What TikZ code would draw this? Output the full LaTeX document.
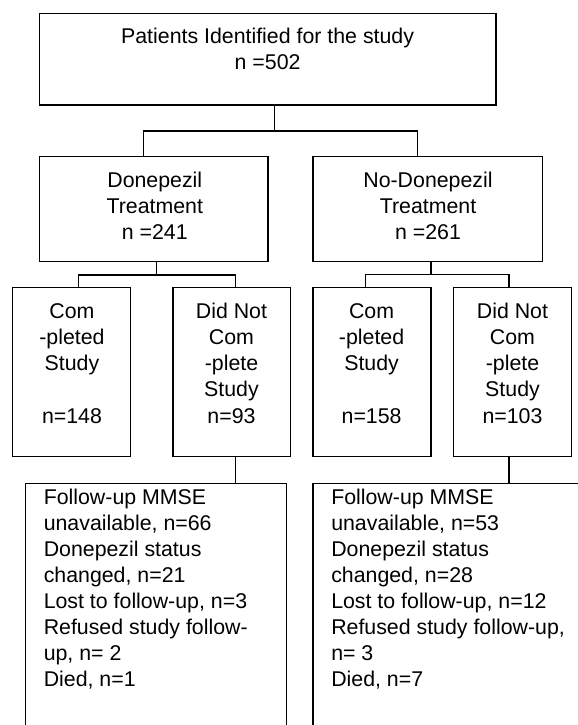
\documentclass[tikz,border=0pt]{standalone}
\usepackage{fontspec}
\setmainfont{Liberation Sans}
\newcommand{\mylines}[2]{\begin{tabular}[t]{@{}#1@{}}#2\end{tabular}}
\begin{document}
\begin{tikzpicture}[x=0.75pt,y=-0.75pt,
  box/.style={draw=black, line width=0.95pt, inner sep=0pt, outer sep=0pt},
  conn/.style={draw=black, line width=0.95pt},
  txt/.style={inner sep=0pt, anchor=base, font=\fontsize{16pt}{19.5pt}\selectfont}]
\useasboundingbox (0,0) rectangle (578,725);
\clip (0,0) rectangle (578,725);
% boxes
\node[box, minimum width=342.5pt, minimum height=68.8pt] (top) at (267.75,59.15) {};
\node[box, minimum width=171.45pt, minimum height=78.45pt] (don) at (153.7,209) {};
\node[box, minimum width=172.3pt, minimum height=78.45pt] (nodon) at (427.85,209) {};
\node[box, minimum width=88.5pt, minimum height=127.05pt] (com1) at (71.7,372) {};
\node[box, minimum width=88.2pt, minimum height=127.05pt] (dnc1) at (231.7,372) {};
\node[box, minimum width=88.4pt, minimum height=127.05pt] (com2) at (371.95,372) {};
\node[box, minimum width=88.5pt, minimum height=127.05pt] (dnc2) at (512.7,372) {};
\node[box, minimum width=195.75pt, minimum height=207.5pt] (bot1) at (156.3,621.65) {};
\node[box, minimum width=230.25pt, minimum height=207.5pt] (bot2) at (466.5,621.65) {};
% texts
\node[txt] (toptxt) at (267.6,43.5) {\mylines{c}{Patients Identified for the study\\n =502}};
\node[txt] (dontxt) at (154.8,187.5) {\mylines{c}{Donepezil\\Treatment\\n =241}};
\node[txt] (nodontxt) at (428,187.5) {\mylines{c}{No-Donepezil\\Treatment\\n =261}};
\node[txt] (com1txt) at (72,318.2) {\mylines{c}{Com\\-pleted\\Study\\\mbox{}\\[1.3pt]n=148}};
\node[txt] (dnc1txt) at (231.5,318.2) {\mylines{c}{Did Not\\Com\\-plete\\Study\\[1.3pt]n=93}};
\node[txt] (com2txt) at (371.6,318.2) {\mylines{c}{Com\\-pleted\\Study\\\mbox{}\\[1.3pt]n=158}};
\node[txt] (dnc2txt) at (512.5,318.2) {\mylines{c}{Did Not\\Com\\-plete\\Study\\[1.3pt]n=103}};
\node[txt, anchor=base west] (bot1txt) at (43.5,504.2) {\mylines{l}{Follow-up MMSE\\unavailable, n=66\\Donepezil status\\changed, n=21\\Lost to follow-up, n=3\\Refused study follow-\\up, n= 2\\Died, n=1}};
\node[txt, anchor=base west] (bot2txt) at (331,504.2) {\mylines{l}{Follow-up MMSE\\unavailable, n=53\\Donepezil status\\changed, n=28\\Lost to follow-up, n=12\\Refused study follow-up,\\n= 3\\Died, n=7}};
% connectors
\coordinate (j0) at (274.2,131);
\coordinate (jl) at (143.8,131);
\coordinate (jr) at (417.7,131);
\draw[conn] (top.south -| j0) -- (j0);
\draw[conn] (don.north -| jl) -- (jl) -- (jr) -- (nodon.north -| jr);
\coordinate (k0) at (156.7,275);
\coordinate (kl) at (78.5,275);
\coordinate (kr) at (235.2,275);
\draw[conn] (don.south -| k0) -- (k0);
\draw[conn] (com1.north -| kl) -- (kl) -- (kr) -- (dnc1.north -| kr);
\coordinate (m0) at (431,274.5);
\coordinate (ml) at (365.6,274.5);
\coordinate (mr) at (509,274.5);
\draw[conn] (nodon.south -| m0) -- (m0);
\draw[conn] (com2.north -| ml) -- (ml) -- (mr) -- (dnc2.north -| mr);
\draw[conn] (dnc1.south -| kr) -- (bot1.north -| kr);
\draw[conn] (dnc2.south -| mr) -- (bot2.north -| mr);
\end{tikzpicture}
\end{document}
